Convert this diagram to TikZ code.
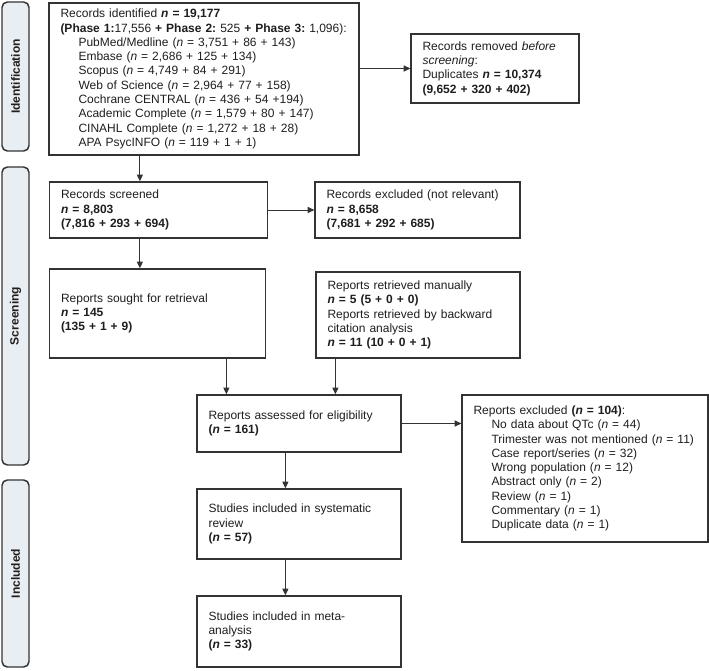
\documentclass[tikz,border=0pt]{standalone}
\usepackage{fontspec}
\setmainfont{Liberation Sans}
\usetikzlibrary{arrows.meta,calc}
\definecolor{boxline}{HTML}{333333}
\definecolor{sidefill}{HTML}{E9EEF3}
\definecolor{txt}{HTML}{1E1E1E}
\newcommand{\ind}{\hspace*{13.5pt}}
\frenchspacing
\begin{document}
\begin{tikzpicture}[x=0.75pt,y=-0.75pt,
  every node/.style={font=\fontsize{9pt}{10.7pt}\selectfont\frenchspacing, text=txt},
  box/.style={draw=boxline, line width=1.2pt, rectangle, align=left, inner xsep=8.5pt, inner ysep=0pt},
  side/.style={draw=boxline, line width=1.1pt, fill=sidefill, rounded corners=4pt, rotate=90, inner sep=0pt, font=\fontsize{9pt}{10.7pt}\selectfont\bfseries},
  arr/.style={draw=boxline, line width=0.75pt, -{Triangle[length=5pt,width=4.6pt]}}
]
\useasboundingbox (0,0) rectangle (709,670);

% side labels
\node[side, minimum width=149*0.75pt, minimum height=27*0.75pt] (sid) at (15.5,76.5) {Identification};
\node[side, minimum width=298*0.75pt, minimum height=27*0.75pt] (sscr) at (15.5,316) {Screening};
\node[side, minimum width=187*0.75pt, minimum height=27*0.75pt] (sinc) at (15.5,573.5) {Included};

% boxes
\node[box, minimum width=308*0.75pt, minimum height=152*0.75pt, text width=287*0.75pt] (ident) at (204,79) {%
Records identified \textbf{\textit{n} = 19,177}\\
\mbox{\textbf{(Phase 1:}17,556 \textbf{+ Phase 2:} 525 \textbf{+ Phase 3:} 1,096):}\\
\ind PubMed/Medline (\textit{n} = 3,751 + 86 + 143)\\
\ind Embase (\textit{n} = 2,686 + 125 + 134)\\
\ind Scopus (\textit{n} = 4,749 + 84 + 291)\\
\ind Web of Science (\textit{n} = 2,964 + 77 + 158)\\
\ind Cochrane CENTRAL (\textit{n} = 436 + 54 +194)\\
\ind Academic Complete (\textit{n} = 1,579 + 80 + 147)\\
\ind CINAHL Complete (\textit{n} = 1,272 + 18 + 28)\\
\ind APA PsycINFO (\textit{n} = 119 + 1 + 1)};

\node[box, minimum width=166*0.75pt, minimum height=69*0.75pt, text width=145*0.75pt] (removed) at (495,68.5) {%
Records removed \textit{before}\\
\textit{screening}:\\
Duplicates \textbf{\textit{n} = 10,374}\\
\textbf{(9,652 + 320 + 402)}};

\node[box, minimum width=217*0.75pt, minimum height=56*0.75pt, text width=195*0.75pt] (screened) at (158.5,210) {%
Records screened\\
\textbf{\textit{n} = 8,803}\\
\textbf{(7,816 + 293 + 694)}};

\node[box, minimum width=203*0.75pt, minimum height=56*0.75pt, text width=182*0.75pt] (excl1) at (417.5,210) {%
Records excluded (not relevant)\\
\textbf{\textit{n} = 8,658}\\
\textbf{(7,681 + 292 + 685)}};

\node[box, minimum width=215*0.75pt, minimum height=89*0.75pt, text width=193*0.75pt] (sought) at (157.5,313.5) {%
Reports sought for retrieval\\
\textbf{\textit{n} = 145}\\
\textbf{(135 + 1 + 9)}};

\node[box, minimum width=202*0.75pt, minimum height=86*0.75pt, text width=181*0.75pt] (manual) at (418,315) {%
Reports retrieved manually\\
\textbf{\textit{n} = 5 (5 + 0 + 0)}\\
Reports retrieved by backward\\
citation analysis\\
\textbf{\textit{n} = 11 (10 + 0 + 1)}};

\node[box, minimum width=202*0.75pt, minimum height=57*0.75pt, text width=181*0.75pt] (assessed) at (299,423.5) {%
Reports assessed for eligibility\\
\textbf{(\textit{n} = 161)}};

\node[box, minimum width=244*0.75pt, minimum height=147*0.75pt, text width=223*0.75pt] (excl2) at (585,468.5) {%
Reports excluded \textbf{(\textit{n} = 104)}:\\
\ind No data about QTc (\textit{n} = 44)\\
\ind Trimester was not mentioned (\textit{n} = 11)\\
\ind Case report/series (\textit{n} = 32)\\
\ind Wrong population (\textit{n} = 12)\\
\ind Abstract only (\textit{n} = 2)\\
\ind Review (\textit{n} = 1)\\
\ind Commentary (\textit{n} = 1)\\
\ind Duplicate data (\textit{n} = 1)\\[4pt]};

\node[box, minimum width=202*0.75pt, minimum height=70*0.75pt, text width=181*0.75pt] (sysrev) at (299,524) {%
Studies included in systematic\\
review\\
\textbf{(\textit{n} = 57)}};

\node[box, minimum width=202*0.75pt, minimum height=71*0.75pt, text width=181*0.75pt] (meta) at (299,631.5) {%
Studies included in meta-\\
analysis\\
\textbf{(\textit{n} = 33)}};

% connector coordinates
\path (screened.north west) ++(91,0) coordinate (c1);
\path (sought.north west) ++(91,0) coordinate (c2);
\path (assessed.north west) ++(30,0) coordinate (c3);
\path (assessed.north west) ++(139,0) coordinate (c4);
\path (sysrev.north west) ++(89,0) coordinate (c5);
\path (meta.north west) ++(89,0) coordinate (c6);

% connectors
\draw[arr] (ident.south -| c1) -- (c1);
\draw[arr] (removed.west -| ident.east) -- (removed.west);
\draw[arr] (excl1.west -| screened.east) -- (excl1.west);
\draw[arr] (screened.south -| c2) -- (c2);
\draw[arr] (sought.south -| c3) -- (c3);
\draw[arr] (manual.south -| c4) -- (c4);
\draw[arr] (assessed.east) -- (assessed.east -| excl2.west);
\draw[arr] (assessed.south -| c5) -- (c5);
\draw[arr] (sysrev.south -| c6) -- (c6);
\end{tikzpicture}
\end{document}
